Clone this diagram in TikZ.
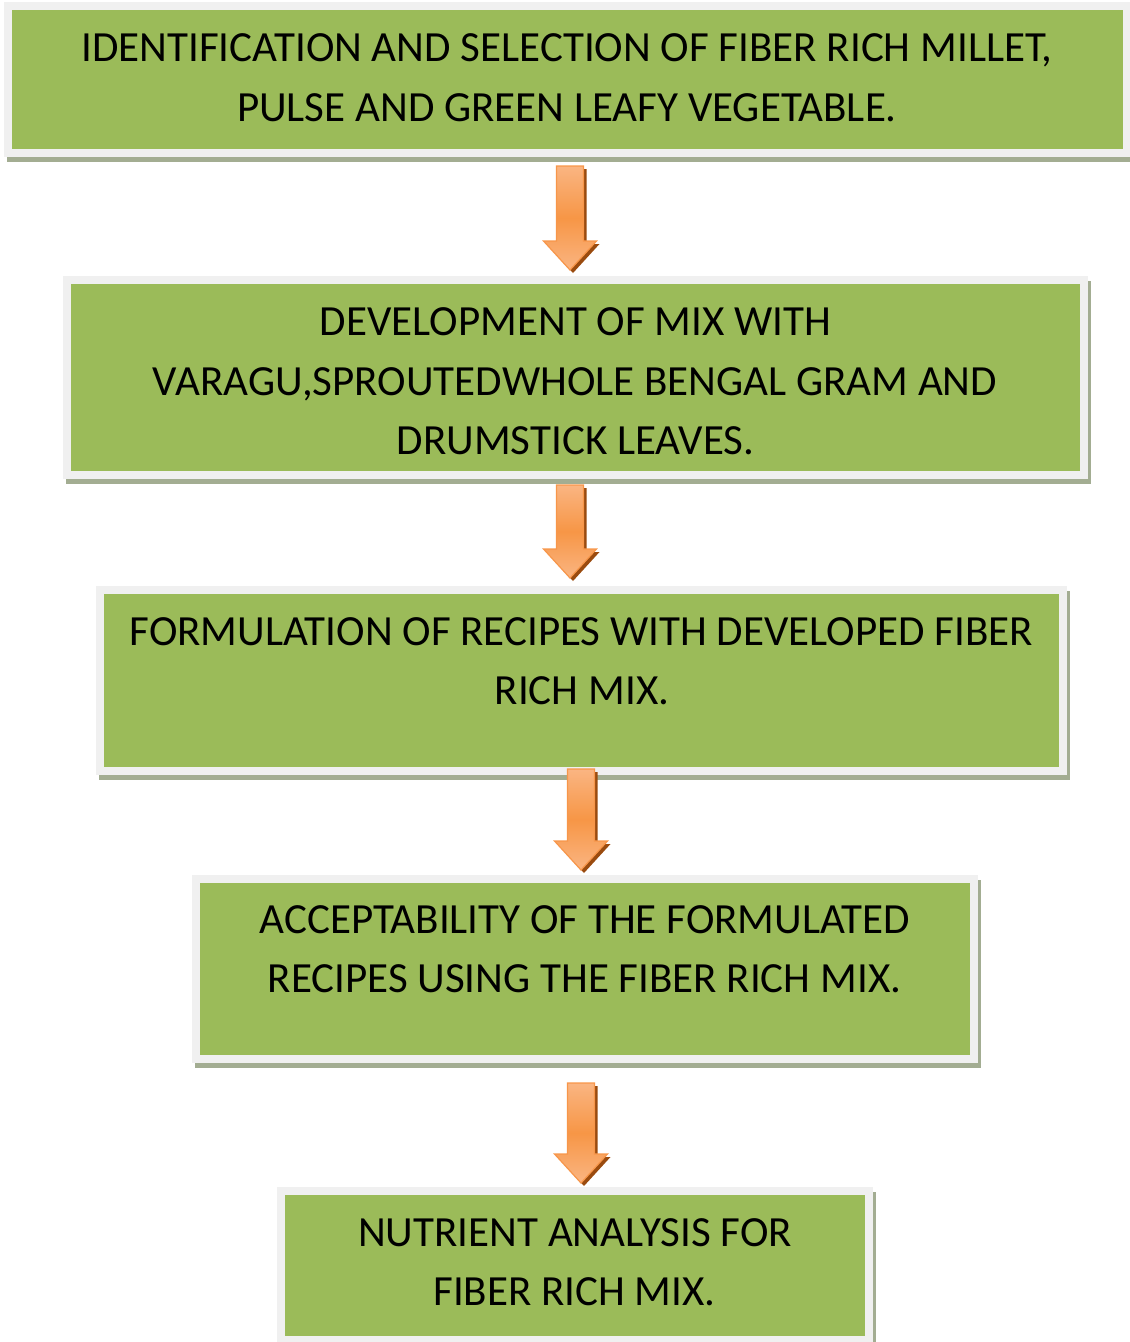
\documentclass[tikz,border=0pt]{standalone}
\usepackage{fontspec}
\setmainfont{Carlito}
\usetikzlibrary{backgrounds,calc}
\definecolor{boxgreen}{HTML}{9BBB59}
\definecolor{framegrey}{HTML}{F0F0F0}
\definecolor{shadowgreen}{HTML}{A3AD92}
\definecolor{arrowlight}{HTML}{FAB582}
\definecolor{arroworange}{HTML}{F79646}
\definecolor{arrowedge}{HTML}{F7964A}
\definecolor{arrowshadow}{HTML}{9A4B0F}
\tikzset{
  flowbox/.style={rectangle, fill=boxgreen, draw=framegrey, line width=8pt, inner sep=0pt},
  boxshade/.style={fill=shadowgreen},
  linetext/.style={anchor=base, inner sep=0pt, font=\fontsize{43}{59.5}\selectfont},
  pics/flowarrow/.style={code={
    \fill[arrowshadow] (-10.5,3) -- (16.5,3) -- (16.5,#1-26) -- (29.5,#1-26) -- (3,#1+3) -- (-23.5,#1-26) -- (-10.5,#1-26) -- cycle;
    \path[shading=axis, top color=arrowlight, bottom color=arrowlight, middle color=arroworange, draw=arrowedge, line width=1.2pt, line join=miter]
      (-13.5,0) -- (13.5,0) -- (13.5,#1-29) -- (26.5,#1-29) -- (0,#1) -- (-26.5,#1-29) -- (-13.5,#1-29) -- cycle;
  }}
}
\begin{document}
\begin{tikzpicture}[x=1pt,y=-1pt]
\useasboundingbox (0,0) rectangle (1130,1342);

% boxes
\node[flowbox, minimum width=1119pt, minimum height=147pt] (b1) at (567.5,79.5) {};
\node[flowbox, minimum width=1017pt, minimum height=195pt] (b2) at (575.5,377.5) {};
\node[flowbox, minimum width=963pt, minimum height=181pt] (b3) at (581.5,680.5) {};
\node[flowbox, minimum width=778pt, minimum height=180pt] (b4) at (585,969) {};
\node[flowbox, minimum width=588pt, minimum height=149pt] (b5) at (575,1265.5) {};

\begin{scope}[on background layer]
  \foreach \b in {b1,b2,b3,b4,b5}{
    \fill[boxshade] ([shift={(3,5)}]\b.north west) rectangle ([shift={(3,5)}]\b.south east);
  }
\end{scope}

% texts
\node[linetext] (t1a) at (567,61) {IDENTIFICATION AND SELECTION OF FIBER RICH MILLET,};
\node[linetext] (t1b) at (567,121) {PULSE AND GREEN LEAFY VEGETABLE.};
\node[linetext] (t2a) at (575.5,335) {DEVELOPMENT OF MIX WITH};
\node[linetext] (t2b) at (575,395) {VARAGU,SPROUTEDWHOLE BENGAL GRAM AND};
\node[linetext] (t2c) at (575.5,454) {DRUMSTICK LEAVES.};
\node[linetext] (t3a) at (581.5,645) {FORMULATION OF RECIPES WITH DEVELOPED FIBER};
\node[linetext] (t3b) at (582,704) {RICH MIX.};
\node[linetext] (t4a) at (585,933) {ACCEPTABILITY OF THE FORMULATED};
\node[linetext] (t4b) at (584.5,992) {RECIPES USING THE FIBER RICH MIX.};
\node[linetext] (t5a) at (575,1246) {NUTRIENT ANALYSIS FOR};
\node[linetext] (t5b) at (574.5,1305) {FIBER RICH MIX.};

% connectors (block arrows) between boxes
\coordinate (a1) at ($(b1.south) + (2.5,9)$);
\coordinate (a2) at ($(b2.south) + (-5.5,6)$);
\coordinate (a3) at ($(b3.south) + (-0.5,-6)$);
\coordinate (a4) at ($(b4.south) + (-4,20)$);
\pic at (a1) {flowarrow=104};
\pic at (a2) {flowarrow=93};
\pic at (a3) {flowarrow=101};
\pic at (a4) {flowarrow=100};
\end{tikzpicture}
\end{document}
